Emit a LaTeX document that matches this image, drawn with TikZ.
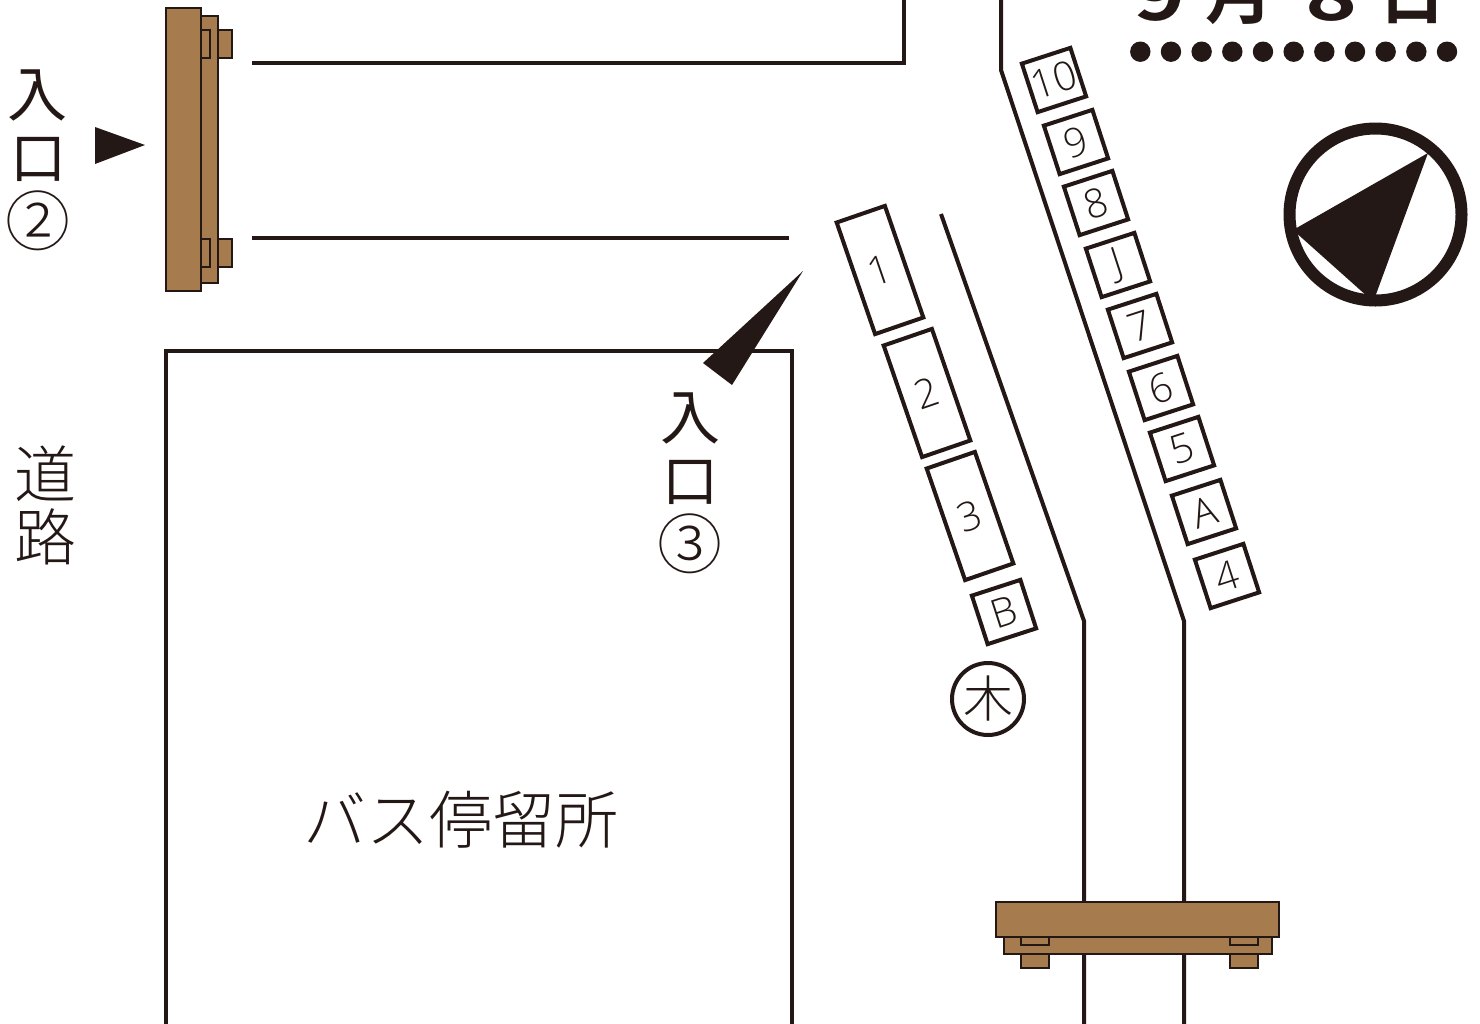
\documentclass[tikz,border=0pt]{standalone}
\usepackage{fontspec}
\newfontfamily\jp{Noto Sans CJK JP}[UprightFont=* Light]
\newfontfamily\jpreg{Noto Sans CJK JP}
\newfontfamily\jpbold{Noto Sans CJK JP}[UprightFont=* Bold]
\newfontfamily\digits{Open Sans}[UprightFont=* Light]
\definecolor{ink}{HTML}{231815}
\definecolor{wood}{HTML}{A67C4E}
\tikzset{
  road/.style={draw=ink,line width=4pt,line join=miter},
  woodbox/.style={draw=ink,fill=wood,line width=2.4pt},
  solidmark/.style={fill=ink,draw=none},
  slotbase/.style={draw=ink,line width=4pt,rectangle,inner sep=0pt,font=\digits\fontsize{40}{40}\selectfont,text=ink},
  slot/.style={slotbase,rotate=18,minimum width=51pt,minimum height=51pt},
  longslot/.style={slotbase,rotate=19,minimum width=51pt,minimum height=118pt},
  jplabel/.style={inner sep=0pt,text=ink,font=\jp\fontsize{62}{62}\selectfont},
  entrylabel/.style={inner sep=0pt,text=ink,font=\jpreg\fontsize{60}{60}\selectfont},
  titletext/.style={inner sep=0pt,text=ink,anchor=base,font=\jpbold\fontsize{68}{68}\selectfont},
}
\begin{document}
\begin{tikzpicture}[x=1pt,y=-1pt]
\useasboundingbox (0,0) rectangle (1480,1023);
\clip (0,0) rectangle (1480,1023);
\fill[white] (0,0) rectangle (1480,1023);
% roads
\draw[road] (904,-5) -- (904,62.5) -- (252,62.5);
\draw[road] (252,237.5) -- (789,237.5);
\draw[road] (1001,-5) -- (1001,70) -- (1184,621) -- (1184,1030);
\draw[road] (941,214) -- (1084,621) -- (1084,1030);
\draw[road] (166,1030) -- (166,351) -- (792,351) -- (792,1030);
% left bridge
\draw[woodbox] (218,30) rectangle (232,58);
\draw[woodbox] (218,239) rectangle (232,267);
\draw[woodbox] (201,16) rectangle (218,283);
\draw[woodbox] (201,30) rectangle (210,58);
\draw[woodbox] (201,239) rectangle (210,267);
\draw[woodbox] (166,8) rectangle (201,291);
% bottom bridge
\draw[woodbox] (1021,953) rectangle (1049,968);
\draw[woodbox] (1230,953) rectangle (1258,968);
\draw[woodbox] (1004,937) rectangle (1272,954);
\draw[woodbox] (1021,937) rectangle (1049,945);
\draw[woodbox] (1230,937) rectangle (1258,945);
\draw[woodbox] (996,902) rectangle (1279,937);
% arrows
\fill[solidmark] (95,127) -- (145,145) -- (95,164) -- cycle;
\fill[solidmark] (803,271) -- (703,363) -- (732,385) -- cycle;
% compass
\node[circle,draw=ink,line width=12pt,minimum size=172pt,inner sep=0pt] (compass) at (1375.5,214.5) {};
\fill[solidmark] (1428,153) -- (1293,230) -- (1368,297) -- (1375,297) -- cycle;
% dots
\foreach \i in {0,...,10} \fill[solidmark] (1140.3+\i*30.67,51.7) circle (10.2pt);
% title
\node[titletext,xscale=1.3] (t1) at (1160,20) {9};
\node[titletext] (t2) at (1239,18) {月};
\node[titletext,xscale=1.3] (t3) at (1332,20) {8};
\node[titletext] (t4) at (1412,18) {日};
% slots
\node[slot] (s10) at (1054,80) {10};
\node[slot] (s9) at (1076,142) {9};
\node[slot] (s8) at (1096,203) {8};
\node[slot] (sJ) at (1118,265) {J};
\node[slot] (s7) at (1140,326) {7};
\node[slot] (s6) at (1161,388) {6};
\node[slot] (s5) at (1182,449) {5};
\node[slot] (sA) at (1204,512) {A};
\node[slot] (s4) at (1227,576) {4};
\node[slot] (sB) at (1004,612) {B};
\node[longslot] (s1) at (880,270) {1};
\node[longslot] (s2) at (927,393) {2};
\node[longslot] (s3) at (970,516) {3};
% labels
\node[entrylabel] (e2a) at (38,95) {入};
\node[entrylabel,font=\jpreg\fontsize{56}{56}\selectfont] (e2b) at (38,159) {口};
\node[jplabel,font=\jp\fontsize{65}{65}\selectfont] (e2c) at (38,221) {②};
\node[entrylabel] (e3a) at (690,418) {入};
\node[entrylabel,font=\jpreg\fontsize{56}{56}\selectfont] (e3b) at (690,482) {口};
\node[jplabel,font=\jp\fontsize{65}{65}\selectfont] (e3c) at (690,544) {③};
\node[jplabel] (r1) at (45,474) {道};
\node[jplabel] (r2) at (45,537) {路};
\node[jplabel,font=\jp\fontsize{63}{63}\selectfont] (bus) at (461,820) {バス停留所};
\node[circle,draw=ink,line width=4pt,minimum size=72pt,inner sep=0pt,text=ink,font=\jp\fontsize{50}{50}\selectfont] (tree) at (988,699) {木};
\end{tikzpicture}
\end{document}
